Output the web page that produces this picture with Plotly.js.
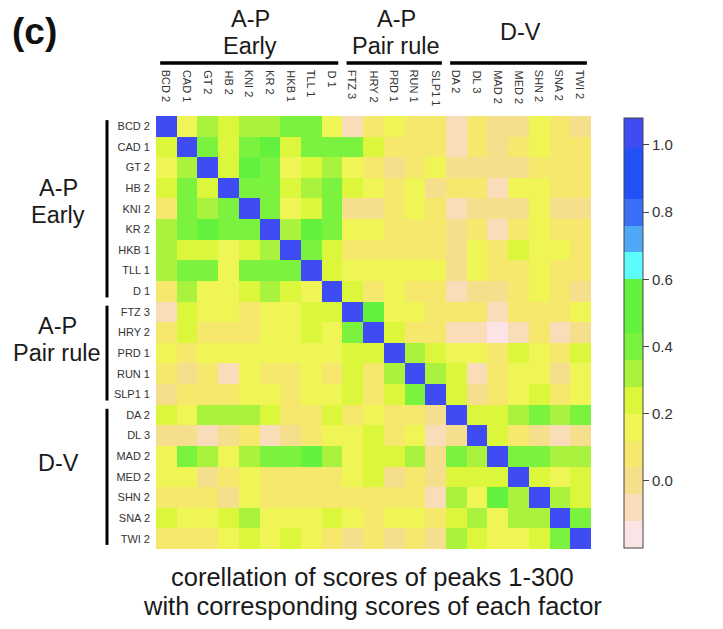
<!DOCTYPE html>
<html><head><meta charset="utf-8">
<script src="https://cdn.plot.ly/plotly-3.0.1.min.js"></script>
<style>html,body{margin:0;padding:0;background:#fff}</style>
</head><body><div id="chart" style="width:723px;height:629px"></div>
<script>
const factors = ['BCD 2','CAD 1','GT 2','HB 2','KNI 2','KR 2','HKB 1','TLL 1','D 1','FTZ 3','HRY 2','PRD 1','RUN 1','SLP1 1','DA 2','DL 3','MAD 2','MED 2','SHN 2','SNA 2','TWI 2'];

const corr = [
 [1.0, .16, .32, .24, .32, .32, .40, .40, .16, -.08, .08, .16, .08, .08, -.08, .08, 0, 0, .16, .08, 0],
 [.24, 1.0, .40, .24, .40, .48, .24, .40, .40, .40, .24, .08, .08, .08, -.08, .08, 0, .08, .16, .08, .08],
 [.16, .32, 1.0, .24, .48, .40, .16, .24, .32, .16, .08, 0, .08, .16, 0, 0, 0, 0, .08, .08, .08],
 [.24, .40, .24, 1.0, .40, .40, .24, .32, .40, .24, .16, .08, .16, 0, .08, .08, -.08, .16, .16, .08, .08],
 [.08, .40, .32, .40, 1.0, .40, .16, .24, .40, 0, 0, .08, .16, .08, -.08, 0, 0, 0, .16, 0, 0],
 [.32, .40, .48, .40, .40, 1.0, .32, .48, .40, .16, .16, .08, .08, .08, 0, .08, -.08, .08, .16, .08, .08],
 [.32, .24, .24, .16, .24, .32, 1.0, .40, .24, .08, .08, .08, .08, .08, 0, .16, .08, .24, .16, .16, .08],
 [.32, .40, .40, .16, .40, .40, .40, 1.0, .24, .16, .16, .16, .16, .16, 0, .16, .08, .08, .16, .08, .08],
 [.08, .32, .16, .16, .24, .32, .24, .16, 1.0, .24, .08, .16, .08, .08, -.08, 0, 0, .08, .16, .08, 0],
 [-.08, .24, .16, .16, .08, .16, .16, .24, .24, 1.0, .48, .16, .16, .08, .08, .08, -.08, .08, .08, .08, .16],
 [.08, .24, .08, .08, .08, .16, .16, .24, .16, .40, 1.0, .24, .08, .08, -.08, -.08, -.16, -.08, .08, -.08, 0],
 [.16, .08, .16, .16, .16, .16, .16, .16, .16, .24, .24, 1.0, .32, .24, .16, .16, .08, .24, .16, .08, .24],
 [.08, 0, .08, -.08, .16, .08, .08, .16, .08, .24, .08, .32, 1.0, .32, .24, -.08, .08, .16, .16, 0, .16],
 [0, .08, .08, .08, .16, .16, .08, .16, .16, .24, .08, .24, .40, 1.0, .24, 0, .08, .16, .24, .08, .16],
 [.24, .16, .32, .32, .32, .24, .08, .08, .24, .08, .16, .08, .08, 0, 1.0, .24, .24, .32, .40, .32, .40],
 [0, 0, -.08, 0, .08, -.08, 0, .08, .16, .16, .24, .08, .16, -.08, 0, 1.0, .24, .08, 0, -.08, 0],
 [.16, .40, .32, .16, .32, .40, .40, .48, .32, .16, .24, .24, .32, 0, .40, .32, 1.0, .40, .40, .32, .32],
 [.16, .16, 0, .08, .16, .08, .08, .08, .08, .16, .24, 0, .08, 0, .24, .24, .24, 1.0, .24, .16, .24],
 [.08, .08, .08, 0, .16, .08, .08, .08, .08, .08, .08, .08, .08, -.08, .32, .16, .48, .32, 1.0, .32, .24],
 [.24, .16, .16, .24, .32, .16, .16, .16, .24, .16, .08, .16, .16, .08, .24, .32, .16, .32, .32, 1.0, .40],
 [.08, .08, .08, .16, .24, .16, .24, .16, .08, 0, .08, 0, .08, 0, .32, .24, .16, .16, .24, .40, 1.0]
];

const groupTop = ['A-P|Early', 'A-P|Pair rule', 'D-V'];
const groupStart = [0, 9, 14];
const groupEnd = [8, 13, 20];

const cbTickVals = [0, 0.2, 0.4, 0.6, 0.8, 1.0];
const cbTickText = ['0.0', '0.2', '0.4', '0.6', '0.8', '1.0'];

const binEdges = [-0.2, -0.12, -0.04, 0.04, 0.12, 0.2, 0.28, 0.36, 0.44, 0.6, 0.68, 0.76, 0.84, 0.99, 1.08];
const binColors = ['#fce4e6', '#f9dcb8', '#f6df8c', '#f6e86c', '#f0f556', '#dcf63c', '#a9f23e', '#7af23e', '#62f23e', '#5cfcfc', '#4ea8f6', '#3b6ef6', '#2251f8', '#3f4cf4'];

const zmin = binEdges[0], zmax = binEdges[binEdges.length - 1];
const colorscale = [];
for (let i = 0; i < binColors.length; i++) {
  colorscale.push([(binEdges[i] - zmin) / (zmax - zmin), binColors[i]]);
  colorscale.push([(binEdges[i + 1] - zmin) / (zmax - zmin), binColors[i]]);
}

// pixel -> paper helpers (plot area: x 156..591, y 116..549)
const L = 156, T = 116, W = 435, H = 433;
const X = px => (px - L) / W;
const Y = py => (T + H - py) / H;

const txt = '#1a1a1a';
const fam = 'Liberation Sans, Arial, Helvetica, sans-serif';
const annotations = [];
const shapes = [];

factors.forEach(f => {
  annotations.push({x: f, xref: 'x', y: Y(68), yref: 'paper', text: f, showarrow: false,
    textangle: 90, xanchor: 'center', yanchor: 'top', font: {size: 11, color: '#333', family: fam}});
});

const topCx = [250, 396, 520];
const leftCx = [58, 57, 58];
const leftCy = [[188, 215], [326, 353], [463]];
const gsz = 23.5;
groupTop.forEach((g, i) => {
  const parts = g.split('|');
  if (parts.length === 2) {
    annotations.push({x: X(topCx[i]), xref: 'paper', y: Y(19), yref: 'paper', text: parts[0], showarrow: false, xanchor: 'center', yanchor: 'middle', font: {size: gsz, color: txt, family: fam}});
    annotations.push({x: X(topCx[i]), xref: 'paper', y: Y(46), yref: 'paper', text: parts[1], showarrow: false, xanchor: 'center', yanchor: 'middle', font: {size: gsz, color: txt, family: fam}});
    annotations.push({x: X(leftCx[i]), xref: 'paper', y: Y(leftCy[i][0]), yref: 'paper', text: parts[0], showarrow: false, xanchor: 'center', yanchor: 'middle', font: {size: gsz, color: txt, family: fam}});
    annotations.push({x: X(leftCx[i]), xref: 'paper', y: Y(leftCy[i][1]), yref: 'paper', text: parts[1], showarrow: false, xanchor: 'center', yanchor: 'middle', font: {size: gsz, color: txt, family: fam}});
  } else {
    annotations.push({x: X(topCx[i]), xref: 'paper', y: Y(32), yref: 'paper', text: parts[0], showarrow: false, xanchor: 'center', yanchor: 'middle', font: {size: gsz, color: txt, family: fam}});
    annotations.push({x: X(leftCx[i]), xref: 'paper', y: Y(leftCy[i][0]), yref: 'paper', text: parts[0], showarrow: false, xanchor: 'center', yanchor: 'middle', font: {size: gsz, color: txt, family: fam}});
  }
  shapes.push({type: 'line', xref: 'x', yref: 'paper', x0: groupStart[i] - 0.3, x1: groupEnd[i] + 0.3, y0: Y(63), y1: Y(63), line: {color: '#000', width: 3.5}});
  shapes.push({type: 'line', xref: 'paper', yref: 'y', x0: X(107), x1: X(107), y0: groupStart[i] - 0.3, y1: groupEnd[i] + 0.3, line: {color: '#000', width: 3}});
});

annotations.push({x: X(10), xref: 'paper', y: Y(31), yref: 'paper', text: '<b>(c)</b>', showarrow: false, xanchor: 'left', yanchor: 'middle', font: {size: 37, color: '#111', family: fam}});
annotations.push({x: X(372), xref: 'paper', y: Y(577), yref: 'paper', text: 'corellation of scores of peaks 1-300', showarrow: false, xanchor: 'center', yanchor: 'middle', font: {size: 25.5, color: txt, family: fam}});
annotations.push({x: X(372), xref: 'paper', y: Y(606), yref: 'paper', text: 'with corresponding scores of each factor', showarrow: false, xanchor: 'center', yanchor: 'middle', font: {size: 25.5, color: txt, family: fam}});

const trace = {
  type: 'heatmap', x: factors, y: factors, z: corr,
  zmin: zmin, zmax: zmax, colorscale: colorscale,
  xgap: 0, ygap: 0, hoverinfo: 'skip',
  colorbar: {
    x: X(624), xanchor: 'left', xpad: 0,
    y: Y(333), yanchor: 'middle', ypad: 0,
    len: 430, lenmode: 'pixels', thickness: 19, thicknessmode: 'pixels',
    outlinewidth: 1, outlinecolor: '#444',
    tickmode: 'array', tickvals: cbTickVals, ticktext: cbTickText,
    ticks: 'outside', ticklen: 6, tickwidth: 1, tickcolor: '#444',
    tickfont: {size: 15, color: '#333', family: fam}
  }
};

const layout = {
  width: 723, height: 629,
  margin: {l: L, r: 723 - L - W, t: T, b: 629 - T - H, pad: 0},
  paper_bgcolor: '#fff', plot_bgcolor: '#fff',
  font: {family: fam, color: txt},
  xaxis: {type: 'category', showticklabels: false, ticks: '', showgrid: false, zeroline: false, showline: false, range: [-0.5, 20.5]},
  yaxis: {type: 'category', autorange: false, range: [20.5, -0.5], ticks: '', ticklabelstandoff: 5,
    tickfont: {size: 11, color: '#333', family: fam}, showgrid: false, zeroline: false, showline: false},
  annotations: annotations, shapes: shapes, showlegend: false
};

Plotly.newPlot('chart', [trace], layout, {staticPlot: true, displayModeBar: false});
</script>
</body></html>
